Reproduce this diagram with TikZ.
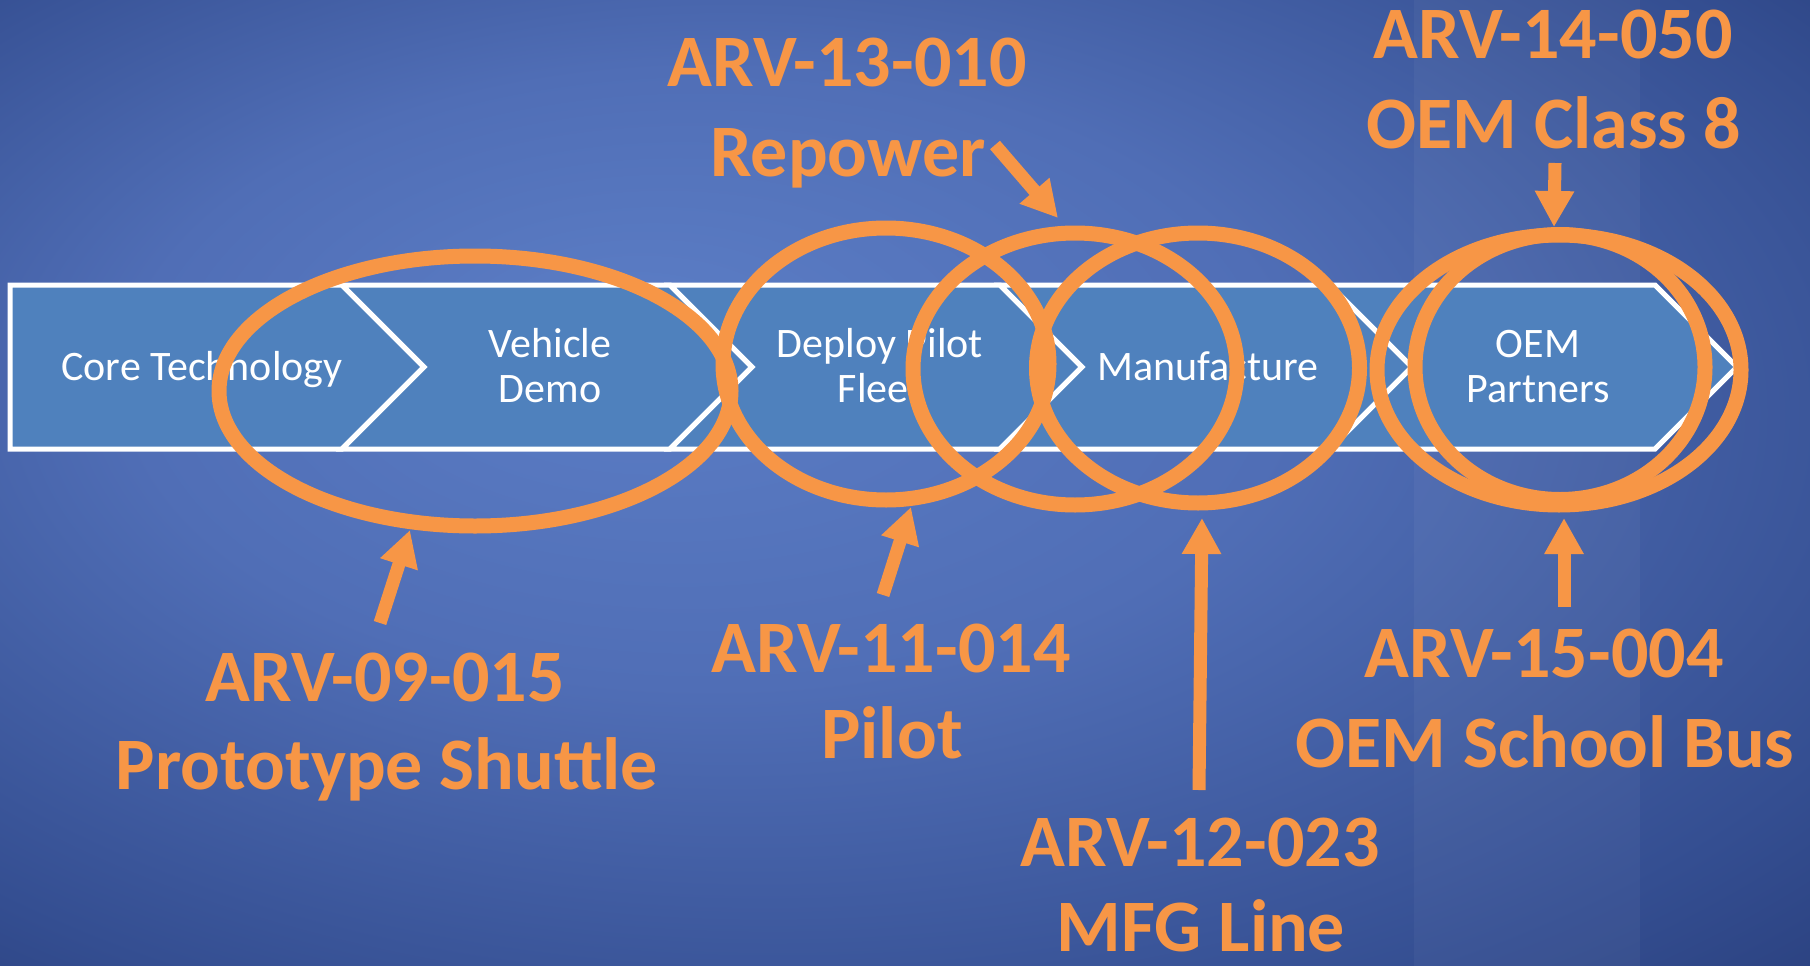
\documentclass[tikz,border=0pt]{standalone}
\usepackage{fontspec}
\setmainfont{Carlito}
\usetikzlibrary{shapes.geometric,arrows.meta}
\definecolor{orng}{RGB}{247,150,70}
\definecolor{boxblue}{RGB}{79,129,189}
\definecolor{bglight}{RGB}{92,126,198}
\definecolor{bglight2}{RGB}{80,110,182}
\definecolor{bgmid}{RGB}{52,78,145}
\definecolor{bgdark}{RGB}{26,42,96}
\pgfdeclareradialshading{bgshade}{\pgfpoint{-8bp}{8bp}}{color(0bp)=(bglight); color(16bp)=(bglight2); color(33bp)=(bgmid); color(50bp)=(bgdark)}
\begin{document}
\begin{tikzpicture}[x=1pt,y=-1pt,
  stage/.style={fill=boxblue, draw=white, line width=5pt, line join=miter},
  ring/.style={ellipse, draw=orng, line width=15pt, inner sep=0pt, outer sep=0pt},
  boxtext/.style={anchor=base, text=white, font=\fontsize{42}{45}\selectfont, inner sep=0pt},
  lbl/.style={anchor=base, text=orng, font=\bfseries\fontsize{74}{89}\selectfont, inner sep=0pt},
  pointer/.style={draw=orng, line width=13pt, -{Triangle[length=36pt,width=37pt]}},
]
\useasboundingbox (0,0) rectangle (1810,966);
\shade[shading=bgshade] (0,0) rectangle (1810,966);
\fill[white, opacity=0.04] (1414,0) rectangle (1640,966);
% chevrons
\draw[stage] (10,285) -- (342,285) -- (424,367) -- (342,449) -- (10,449) -- cycle;
\draw[stage] (342,285) -- (670,285) -- (752,367) -- (670,449) -- (342,449) -- (424,367) -- cycle;
\draw[stage] (670,285) -- (1000,285) -- (1082,367) -- (1000,449) -- (670,449) -- (752,367) -- cycle;
\draw[stage] (1000,285) -- (1330,285) -- (1412,367) -- (1330,449) -- (1000,449) -- (1082,367) -- cycle;
\draw[stage] (1330,285) -- (1655,285) -- (1737,367) -- (1655,449) -- (1330,449) -- (1412,367) -- cycle;
% stage texts
\node[boxtext] (s1) at (202,380) {Core Technology};
\node[boxtext] (s2a) at (550,357) {Vehicle};
\node[boxtext] (s2b) at (550,402) {Demo};
\node[boxtext] (s3a) at (880,357) {Deploy Pilot};
\node[boxtext] (s3b) at (880,402) {Fleet};
\node[boxtext] (s4) at (1208,380) {Manufacture};
\node[boxtext] (s5a) at (1538,357) {OEM};
\node[boxtext] (s5b) at (1538,402) {Partners};
% rings
\node[ring, minimum width=512pt, minimum height=270pt] (e1) at (475,391) {};
\node[ring, minimum width=326pt, minimum height=272pt] (e2) at (886,364) {};
\node[ring, minimum width=324pt, minimum height=272pt] (e3) at (1075,369) {};
\node[ring, minimum width=323pt, minimum height=270pt] (e4) at (1198,368) {};
\node[ring, minimum width=364pt, minimum height=270pt] (e5) at (1559,370) {};
\node[ring, minimum width=290pt, minimum height=265pt] (e6) at (1560,367) {};
% arrow ends
\coordinate (t1) at (380,623); \coordinate (h1) at (410,530);
\coordinate (t2) at (883,595); \coordinate (h2) at (911,507);
\coordinate (t3) at (1199,790); \coordinate (h3) at (1202,518);
\coordinate (t4) at (995,145); \coordinate (h4) at (1058,218);
\coordinate (t5) at (1555,163); \coordinate (h5) at (1554,227);
\coordinate (t6) at (1564,607); \coordinate (h6) at (1564,518);
\draw[pointer] (t1) -- (h1);
\draw[pointer] (t2) -- (h2);
\draw[pointer] (t3) -- (h3);
\draw[pointer] (t4) -- (h4);
\draw[pointer] (t5) -- (h5);
\draw[pointer] (t6) -- (h6);
% labels
\node[lbl] (l1a) at (385,701) {ARV-09-015};
\node[lbl] (l1b) at (387,789) {Prototype Shuttle};
\node[lbl] (l2a) at (891,672) {ARV-11-014};
\node[lbl] (l2b) at (892,758) {Pilot};
\node[lbl] (l3a) at (1200,866) {ARV-12-023};
\node[lbl] (l3b) at (1201,951) {MFG Line};
\node[lbl] (l4a) at (847,86) {ARV-13-010};
\node[lbl] (l4b) at (848,176) {Repower};
\node[lbl] (l5a) at (1553,59) {ARV-14-050};
\node[lbl] (l5b) at (1554,148) {OEM Class 8};
\node[lbl] (l6a) at (1544,677) {ARV-15-004};
\node[lbl] (l6b) at (1545,767) {OEM School Bus};
\end{tikzpicture}
\end{document}
